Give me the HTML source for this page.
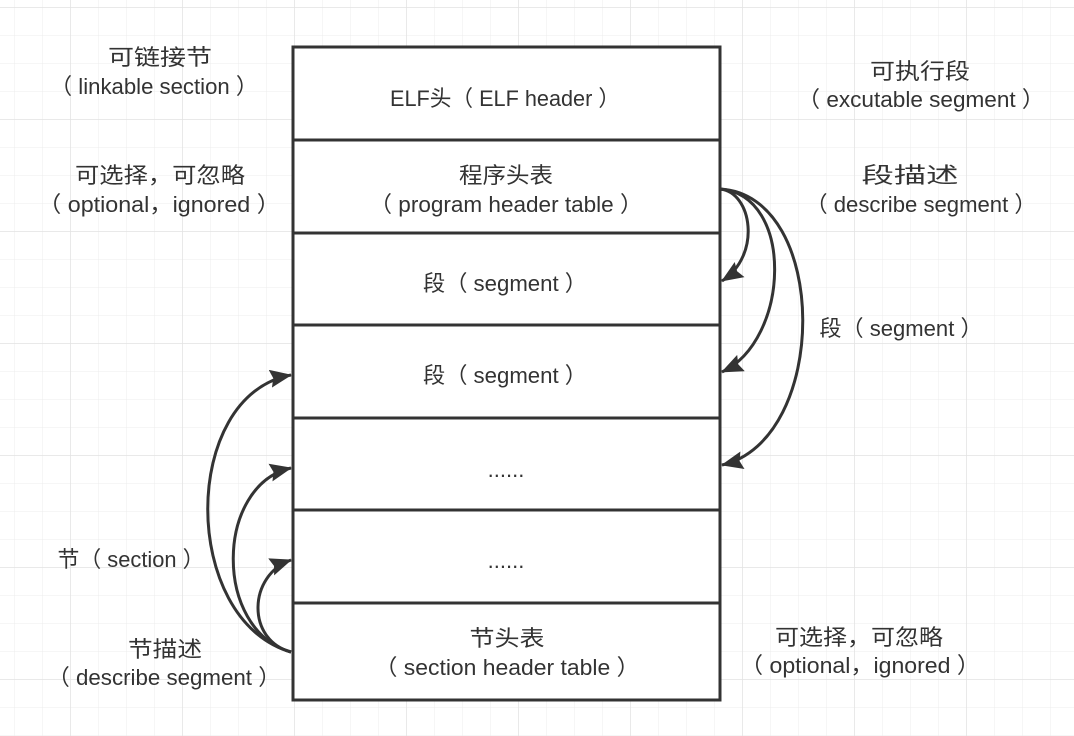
<!DOCTYPE html>
<html><head><meta charset="utf-8"><style>
html,body{margin:0;padding:0;background:#fff;}
body{width:1074px;height:736px;overflow:hidden;position:relative;}
svg{position:absolute;left:0;top:0;}
text{font-family:"Liberation Sans","Noto Sans CJK SC",sans-serif;font-size:22px;fill:#333;text-anchor:middle;}
</style></head><body>
<svg width="1074" height="736" viewBox="0 0 1074 736">
<defs>
<pattern id="g" x="14" y="7" width="28" height="28" patternUnits="userSpaceOnUse">
<path d="M0 0V28M0 0H28" stroke="#ececec" stroke-width="1" fill="none"/>
</pattern>
<pattern id="G" x="70" y="7" width="112" height="112" patternUnits="userSpaceOnUse">
<path d="M0 0V112M0 0H112" stroke="#e2e2e2" stroke-width="1.5" fill="none"/>
</pattern>
<marker id="b" viewBox="0 0 22 18" refX="21" refY="9" markerWidth="22" markerHeight="18" orient="auto" markerUnits="userSpaceOnUse">
<path d="M0 0L22 9L0 18L3 9Z" fill="#333"/>
</marker>
</defs>
<rect width="1074" height="736" fill="url(#g)"/>
<rect width="1074" height="736" fill="url(#G)"/>
<g stroke="#333" stroke-width="3" fill="#fff">
<rect x="293" y="47" width="427" height="653"/>
<line x1="293" y1="140" x2="720" y2="140"/>
<line x1="293" y1="233" x2="720" y2="233"/>
<line x1="293" y1="325" x2="720" y2="325"/>
<line x1="293" y1="418" x2="720" y2="418"/>
<line x1="293" y1="510" x2="720" y2="510"/>
<line x1="293" y1="603" x2="720" y2="603"/>
</g>
<g stroke="#333" stroke-width="3" fill="none">
<path d="M720 189 C752 192 762 255 722 281" marker-end="url(#b)"/>
<path d="M720 189 C795 195 790 340 722 372" marker-end="url(#b)"/>
<path d="M720 189 C830 195 830 440 722 465" marker-end="url(#b)"/>
<path d="M291 652 C246 640 248 575 291 560" marker-end="url(#b)"/>
<path d="M291 652 C213 630 215 485 291 468" marker-end="url(#b)"/>
<path d="M291 652 C180 620 180 395 291 375" marker-end="url(#b)"/>
</g>
<text x="160" y="65" textLength="104" lengthAdjust="spacingAndGlyphs">可链接节</text>
<text x="154" y="94" textLength="208" lengthAdjust="spacingAndGlyphs">（ linkable section ）</text>
<text x="505" y="106" textLength="230" lengthAdjust="spacingAndGlyphs">ELF头（ ELF header ）</text>
<text x="920" y="79" textLength="100" lengthAdjust="spacingAndGlyphs">可执行段</text>
<text x="921" y="107" textLength="247" lengthAdjust="spacingAndGlyphs">（ excutable segment ）</text>
<text x="160" y="183" textLength="170" lengthAdjust="spacingAndGlyphs">可选择，可忽略</text>
<text x="159" y="212" textLength="242" lengthAdjust="spacingAndGlyphs">（ optional，ignored ）</text>
<text x="506" y="183" textLength="94" lengthAdjust="spacingAndGlyphs">程序头表</text>
<text x="506" y="212" textLength="273" lengthAdjust="spacingAndGlyphs">（ program header table ）</text>
<text x="910" y="183" textLength="97" lengthAdjust="spacingAndGlyphs">段描述</text>
<text x="921" y="212" textLength="231" lengthAdjust="spacingAndGlyphs">（ describe segment ）</text>
<text x="505" y="291" textLength="164" lengthAdjust="spacingAndGlyphs">段（ segment ）</text>
<text x="901" y="336" textLength="163" lengthAdjust="spacingAndGlyphs">段（ segment ）</text>
<text x="505" y="383" textLength="164" lengthAdjust="spacingAndGlyphs">段（ segment ）</text>
<text x="506" y="477">......</text>
<text x="506" y="568">......</text>
<text x="131" y="567" textLength="147" lengthAdjust="spacingAndGlyphs">节（ section ）</text>
<text x="165" y="657" textLength="74" lengthAdjust="spacingAndGlyphs">节描述</text>
<text x="164" y="685" textLength="233" lengthAdjust="spacingAndGlyphs">（ describe segment ）</text>
<text x="507" y="646" textLength="75" lengthAdjust="spacingAndGlyphs">节头表</text>
<text x="507" y="675" textLength="265" lengthAdjust="spacingAndGlyphs">（ section header table ）</text>
<text x="859" y="645" textLength="168" lengthAdjust="spacingAndGlyphs">可选择，可忽略</text>
<text x="860" y="673" textLength="240" lengthAdjust="spacingAndGlyphs">（ optional，ignored ）</text>
</svg>
</body></html>
